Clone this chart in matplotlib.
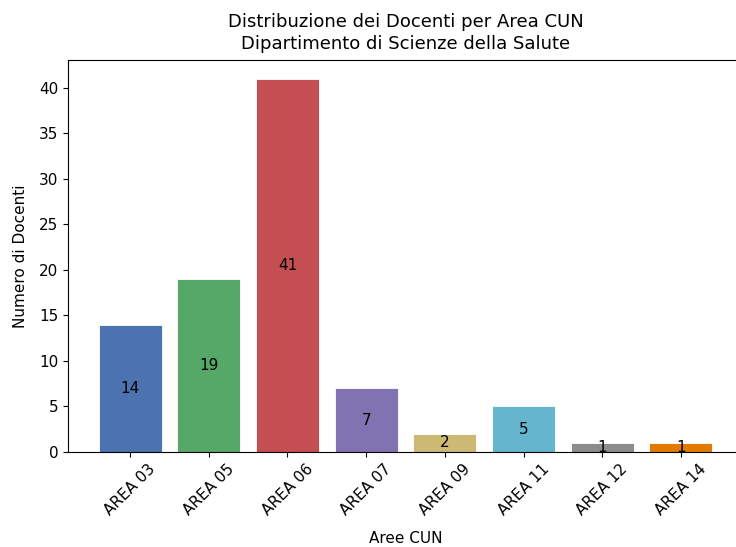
import numpy as np
import matplotlib.pyplot as plt

# Aree CUN e numero di docenti
aree = ["AREA 03", "AREA 05", "AREA 06", "AREA 07", "AREA 09", "AREA 11", "AREA 12", "AREA 14"]
docenti = [14, 19, 41, 7, 2, 5, 1, 1]
colori = ["#4C72B0", "#55A868", "#C44E52", "#8172B2", "#CCB974", "#64B5CD", "#8C8C8C", "#E07B00"]

fig = plt.figure(figsize=(7.36, 5.47), dpi=100)
ax = fig.add_axes([68 / 736, 1 - 452 / 547, 675 / 736, 392 / 547])

x = np.arange(len(aree))
bars = ax.bar(x, docenti, color=colori, width=0.8, edgecolor="white", linewidth=0.6)
ax.bar_label(bars, labels=[str(v) for v in docenti], label_type="center", fontsize=11)

ax.set_xticks(x)
ax.set_xticklabels(aree, rotation=45, fontsize=11)
ax.tick_params(axis="y", labelsize=11)
ax.set_xlabel("Aree CUN", fontsize=11, labelpad=9)
ax.set_ylabel("Numero di Docenti", fontsize=11, labelpad=8)
ax.set_title("Distribuzione dei Docenti per Area CUN\nDipartimento di Scienze della Salute",
             fontsize=13, pad=8, linespacing=1.25)

fig.savefig("out.png", dpi=100)
